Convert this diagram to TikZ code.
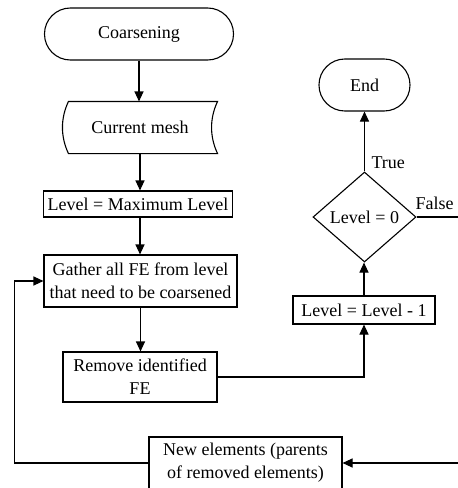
\documentclass[tikz,border=0pt]{standalone}
\usepackage{fontspec}
\setmainfont{Liberation Serif}
\usetikzlibrary{shapes.geometric,arrows.meta,calc}
\begin{document}
\begin{tikzpicture}[x=1pt,y=-1pt,
  font=\fontsize{18}{23}\selectfont,
  line width=1.1pt,
  box/.style={draw, rectangle, inner sep=0pt, align=center},
  term/.style={draw, rectangle, rounded corners=25.9pt, inner sep=0pt, minimum height=52pt},
  decision/.style={draw, diamond, inner sep=0pt, minimum width=103pt, minimum height=90pt},
  arr/.style={-{Triangle[length=10pt,width=9pt]}},
  lbl/.style={inner sep=0pt, anchor=west}]
\useasboundingbox (0,0) rectangle (458,488);
\clip (0,0) rectangle (458,488);

% main column
\node[term, minimum width=189pt] (start) at (139,34) {Coarsening};
\node[inner sep=0pt, minimum width=154pt, minimum height=51pt] (mesh) at (140,127.5) {Current mesh};
\draw ($(mesh.north west)+(6,0)$) -- (mesh.north east)
  .. controls +(-8,17) and +(-8,-17) .. (mesh.south east)
  -- ($(mesh.south west)+(6,0)$)
  .. controls +(-8,-17) and +(-8,17) .. ($(mesh.north west)+(6,0)$) -- cycle;
\node[box, minimum width=189pt, minimum height=26pt] (lmax) at (138,204) {Level = Maximum Level};
\node[box, minimum width=193pt, minimum height=52pt] (gather) at (140.5,281) {Gather all FE from level\\that need to be coarsened};
\node[box, minimum width=154pt, minimum height=50pt] (remove) at (140,377) {Remove identified\\FE};
\node[box, minimum width=193pt, minimum height=52pt] (newel) at (245.5,463) {New elements (parents\\of removed elements)};

% right column
\node[box, minimum width=142pt, minimum height=28pt] (lm1) at (364,310) {Level = Level - 1};
\node[decision] (zero) at (364.5,217) {Level = 0};
\node[term, minimum width=91pt] (end) at (364.5,85) {End};

\node[lbl] (t) at (371,163) {True};
\node[lbl] (f) at (415,203) {False};

% connectors
\draw[arr] (start.south) -- (start.south |- mesh.north);
\draw[arr] (mesh.south) -- (mesh.south |- lmax.north);
\draw[arr] (mesh.south |- lmax.south) -- (mesh.south |- gather.north);
\draw[arr] (gather.south) -- (gather.south |- remove.north);
\draw[arr] (remove.east) -| (lm1.south);
\draw[arr] (lm1.north) -- (lm1.north |- zero.south);
\draw[arr] (zero.north) -- (zero.north |- end.south);
\draw[arr] (zero.east) -- ++(60,0) |- (newel.east);
\draw[arr] (newel.west) -- ++(-134,0) |- (gather.west);
\end{tikzpicture}
\end{document}
